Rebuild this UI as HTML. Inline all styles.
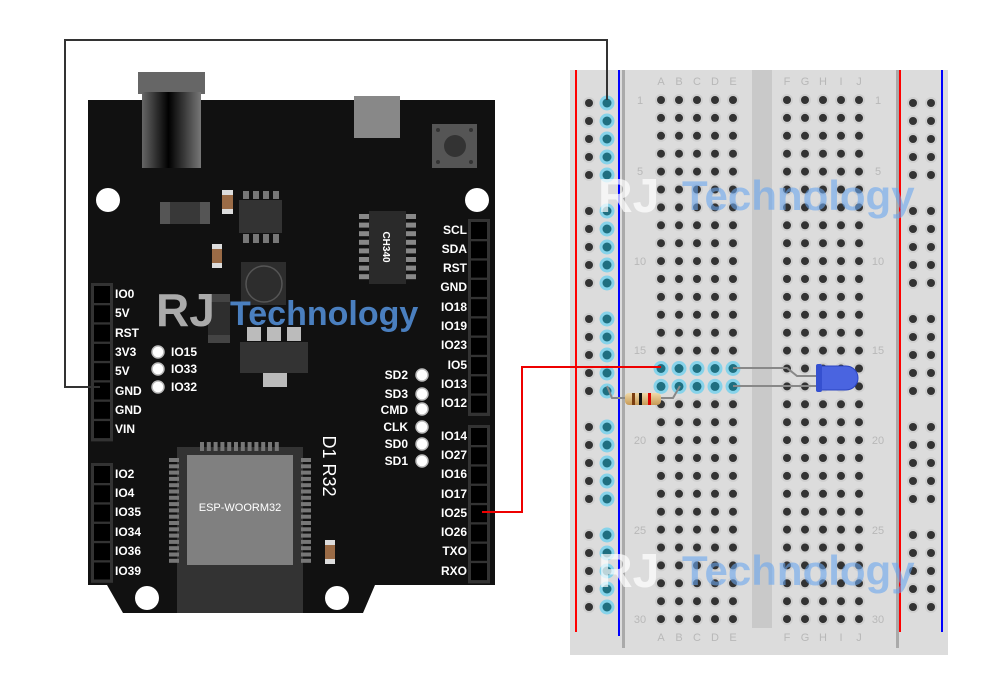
<!DOCTYPE html>
<html><head><meta charset="utf-8">
<style>
html,body{margin:0;padding:0;background:#fff;width:1000px;height:696px;overflow:hidden}
svg{display:block}
.l{font-family:"Liberation Sans",sans-serif;font-weight:bold;font-size:12px;fill:#fff}
.bb{font-family:"Liberation Sans",sans-serif;font-size:11px;fill:#b8b8b8}
</style></head><body>
<svg id="s" width="1000" height="696" viewBox="0 0 1000 696" xmlns="http://www.w3.org/2000/svg">
<defs>
<linearGradient id="jack" x1="0" x2="1">
<stop offset="0" stop-color="#666"/><stop offset="0.45" stop-color="#000"/><stop offset="1" stop-color="#777"/>
</linearGradient>
<linearGradient id="res" x1="0" y1="0" x2="0" y2="1">
<stop offset="0" stop-color="#f0d9a8"/><stop offset="1" stop-color="#c79a55"/>
</linearGradient>
</defs>

<!-- Board -->
<path d="M88 100 H495 V585 H375 L363 613 H123 L107 585 H88 Z" fill="#111"/>
<rect x="138" y="72" width="67" height="22" fill="#666"/>
<rect x="142" y="92" width="59" height="76" fill="url(#jack)"/>
<rect x="354" y="96" width="46" height="42" fill="#888"/>
<rect x="432" y="124" width="45" height="44" fill="#555"/>
<circle cx="455" cy="146" r="11" fill="#333"/>
<circle cx="438" cy="130" r="2" fill="#333"/><circle cx="471" cy="130" r="2" fill="#333"/>
<circle cx="438" cy="162" r="2" fill="#333"/><circle cx="471" cy="162" r="2" fill="#333"/>
<circle cx="108" cy="200" r="12" fill="#fff"/><circle cx="477" cy="200" r="12" fill="#fff"/>
<circle cx="147" cy="598" r="12" fill="#fff"/><circle cx="337" cy="598" r="12" fill="#fff"/>

<!-- small parts -->
<rect x="160" y="202" width="50" height="22" fill="#555"/><rect x="170" y="202" width="30" height="22" fill="#383838"/>
<rect x="222" y="190" width="11" height="24" fill="#ddd"/><rect x="222" y="195" width="11" height="14" fill="#9a6b46"/>
<rect x="212" y="244" width="10" height="24" fill="#ddd"/><rect x="212" y="249" width="10" height="14" fill="#9a6b46"/>
<rect x="239" y="200" width="43" height="33" fill="#333"/>
<g fill="#777"><rect x="243" y="191" width="6" height="8"/><rect x="253" y="191" width="6" height="8"/><rect x="263" y="191" width="6" height="8"/><rect x="273" y="191" width="6" height="8"/>
<rect x="243" y="234" width="6" height="9"/><rect x="253" y="234" width="6" height="9"/><rect x="263" y="234" width="6" height="9"/><rect x="273" y="234" width="6" height="9"/></g>
<rect x="241" y="262" width="45" height="43" fill="#2d2d2d"/>
<circle cx="264" cy="284" r="18" fill="none" stroke="#555" stroke-width="1.5"/>
<rect x="208" y="294" width="22" height="49" fill="#444"/><rect x="208" y="302" width="22" height="33" fill="#2e2e2e"/>
<g fill="#bbb"><rect x="247" y="327" width="14" height="14"/><rect x="267" y="327" width="14" height="14"/><rect x="287" y="327" width="14" height="14"/><rect x="263" y="373" width="24" height="14"/></g>
<rect x="240" y="342" width="68" height="31" fill="#333"/>
<!-- CH340 -->
<g fill="#888" id="chp"></g>
<rect x="369" y="211" width="37" height="73" fill="#2a2a2a"/>
<text x="0" y="0" transform="translate(383,247) rotate(90)" text-anchor="middle" class="l" style="font-size:10px">CH340</text>
<!-- ESP module -->
<rect x="177" y="447" width="126" height="166" fill="#333"/>
<g fill="#777" id="esp"></g>
<rect x="187" y="455" width="106" height="110" fill="#808080"/>
<text x="240" y="511" text-anchor="middle" class="l" style="font-weight:normal;font-size:11px">ESP-WOORM32</text>
<text transform="translate(323,466) rotate(90)" text-anchor="middle" class="l" style="font-size:18px;font-weight:normal">D1 R32</text>
<rect x="325" y="540" width="10" height="24" fill="#ddd"/><rect x="325" y="545" width="10" height="14" fill="#9a6b46"/>

<!-- headers -->
<g id="hdr"></g>
<g class="l">
<text x="115" y="298">IO0</text><text x="115" y="317">5V</text><text x="115" y="337">RST</text><text x="115" y="356">3V3</text>
<text x="115" y="375">5V</text><text x="115" y="395">GND</text><text x="115" y="414">GND</text><text x="115" y="433">VIN</text>
<text x="115" y="478">IO2</text><text x="115" y="497">IO4</text><text x="115" y="516">IO35</text><text x="115" y="536">IO34</text><text x="115" y="555">IO36</text><text x="115" y="575">IO39</text>
<text x="171" y="356">IO15</text><text x="171" y="373">IO33</text><text x="171" y="391">IO32</text>
</g>
<g class="l" text-anchor="end">
<text x="467" y="234">SCL</text><text x="467" y="253">SDA</text><text x="467" y="272">RST</text><text x="467" y="291">GND</text>
<text x="467" y="311">IO18</text><text x="467" y="330">IO19</text><text x="467" y="349">IO23</text><text x="467" y="369">IO5</text>
<text x="467" y="388">IO13</text><text x="467" y="407">IO12</text>
<text x="467" y="440">IO14</text><text x="467" y="459">IO27</text><text x="467" y="478">IO16</text><text x="467" y="498">IO17</text>
<text x="467" y="517">IO25</text><text x="467" y="536">IO26</text><text x="467" y="555">TXO</text><text x="467" y="575">RXO</text>
<text x="408" y="379">SD2</text><text x="408" y="398">SD3</text><text x="408" y="414">CMD</text><text x="408" y="431">CLK</text><text x="408" y="448">SD0</text><text x="408" y="465">SD1</text>
</g>
<g fill="#fff" stroke="#bbb" stroke-width="1.5">
<circle cx="158" cy="352" r="6"/><circle cx="158" cy="369" r="6"/><circle cx="158" cy="387" r="6"/>
<circle cx="422" cy="375" r="6"/><circle cx="422" cy="394" r="6"/><circle cx="422" cy="409" r="6"/><circle cx="422" cy="427" r="6"/><circle cx="422" cy="444" r="6"/><circle cx="422" cy="461" r="6"/>
</g>
<text x="156" y="326" font-family="Liberation Sans,sans-serif" font-weight="bold" font-size="46" fill="#aaa">RJ</text>
<text x="230" y="325" font-family="Liberation Sans,sans-serif" font-weight="bold" font-size="34" fill="#4a7fbf">Technology</text>

<!-- Breadboard -->
<rect x="570" y="70" width="378" height="585" fill="#dcdcdc"/>
<rect x="752" y="70" width="20" height="558" fill="#c9c9c9"/>
<rect x="622" y="70" width="3" height="578" fill="#aaa"/>
<rect x="896" y="70" width="3" height="578" fill="#aaa"/>
<line x1="576" y1="70" x2="576" y2="632" stroke="#f00" stroke-width="2"/>
<line x1="619" y1="70" x2="619" y2="636" stroke="#00f" stroke-width="2"/>
<line x1="900" y1="70" x2="900" y2="632" stroke="#f00" stroke-width="2"/>
<line x1="942" y1="70" x2="942" y2="632" stroke="#00f" stroke-width="2"/>
<g class="bb" text-anchor="middle">
<text x="661" y="85">A</text><text x="679" y="85">B</text><text x="697" y="85">C</text><text x="715" y="85">D</text><text x="733" y="85">E</text>
<text x="787" y="85">F</text><text x="805" y="85">G</text><text x="823" y="85">H</text><text x="841" y="85">I</text><text x="859" y="85">J</text>
<text x="661" y="641">A</text><text x="679" y="641">B</text><text x="697" y="641">C</text><text x="715" y="641">D</text><text x="733" y="641">E</text>
<text x="787" y="641">F</text><text x="805" y="641">G</text><text x="823" y="641">H</text><text x="841" y="641">I</text><text x="859" y="641">J</text>
<text x="640" y="104">1</text><text x="640" y="175">5</text><text x="640" y="265">10</text><text x="640" y="354">15</text><text x="640" y="444">20</text><text x="640" y="534">25</text><text x="640" y="623">30</text>
<text x="878" y="104">1</text><text x="878" y="175">5</text><text x="878" y="265">10</text><text x="878" y="354">15</text><text x="878" y="444">20</text><text x="878" y="534">25</text><text x="878" y="623">30</text>
</g>
<g id="holes"></g>

<!-- wires -->
<polyline points="607,100 607,40 65,40 65,387 100,387" fill="none" stroke="#333" stroke-width="2"/>
<polyline points="482,512 522,512 522,367 661,367" fill="none" stroke="#e00" stroke-width="2"/>
<!-- LED legs -->
<polyline points="733,368 787,368 797,376 825,376" fill="none" stroke="#888" stroke-width="2"/>
<polyline points="733,386 830,386" fill="none" stroke="#888" stroke-width="2"/>
<path d="M820 366 H846 A12 12 0 0 1 846 390 H820 Z" fill="#4a64e0" stroke="#2b44c0"/>
<rect x="816" y="364" width="6" height="28" rx="2" fill="#3550d0"/>
<!-- resistor -->
<polyline points="607,386 612,398 626,398" fill="none" stroke="#888" stroke-width="2"/>
<polyline points="660,398 673,398 680,386" fill="none" stroke="#888" stroke-width="2"/>
<rect x="625" y="393" width="36" height="12" rx="4" fill="url(#res)"/>
<rect x="632" y="393" width="3" height="12" fill="#7a3d10"/>
<rect x="639" y="393" width="3" height="12" fill="#111"/>
<rect x="648" y="393" width="3" height="12" fill="#d00"/>

<!-- watermarks -->
<g font-family="Liberation Sans,sans-serif" font-weight="bold">
<text x="598" y="212" font-size="48" fill="#fff" fill-opacity="0.7">RJ</text>
<text x="682" y="210" font-size="42" fill="#6aa6ee" fill-opacity="0.6">Technology</text>
<text x="598" y="587" font-size="48" fill="#fff" fill-opacity="0.7">RJ</text>
<text x="682" y="585" font-size="42" fill="#6aa6ee" fill-opacity="0.6">Technology</text>
</g>
</svg>
<script>
var NS="http://www.w3.org/2000/svg";
function el(p,t,a){var e=document.createElementNS(NS,t);for(var k in a)e.setAttribute(k,a[k]);p.appendChild(e);return e;}
var H=document.getElementById('holes');
function hole(x,y,c){
 if(c){el(H,'circle',{cx:x,cy:y,r:7.5,fill:'#86d3ea'});el(H,'circle',{cx:x,cy:y,r:4.5,fill:'#1f6f80'});}
 else{el(H,'circle',{cx:x,cy:y,r:6,fill:'#cfcfcf'});el(H,'circle',{cx:x,cy:y,r:4,fill:'#333'});}
}
var L=[661,679,697,715,733],R=[787,805,823,841,859];
for(var r=0;r<30;r++){var y=100+r*17.9;
 L.forEach(function(x){hole(x,y,(r==15||r==16));});
 R.forEach(function(x){hole(x,y,false);});}
for(var g=0;g<5;g++)for(var i=0;i<5;i++){var y=103+g*108+i*18;
 hole(589,y,false);hole(607,y,true);hole(913,y,false);hole(931,y,false);}
var HD=document.getElementById('hdr');
function header(x,y0,n){el(HD,'rect',{x:x-2,y:y0-2,width:22,height:n*19.3+4,fill:'#333'});
 for(var i=0;i<n;i++)el(HD,'rect',{x:x+1,y:y0+i*19.3+1,width:16,height:17,fill:'#000'});}
header(93,285,8);header(93,465,6);header(470,221,10);header(470,427,8);
var C=document.getElementById('chp');
for(var i=0;i<8;i++){el(C,'rect',{x:359,y:214+i*8.6,width:10,height:5});el(C,'rect',{x:406,y:214+i*8.6,width:10,height:5});}
var E=document.getElementById('esp');
for(var i=0;i<17;i++){el(E,'rect',{x:169,y:458+i*6.3,width:10,height:4});el(E,'rect',{x:301,y:458+i*6.3,width:10,height:4});}
for(var i=0;i<12;i++)el(E,'rect',{x:200+i*6.8,y:442,width:4,height:9});
</script>
</body></html>
